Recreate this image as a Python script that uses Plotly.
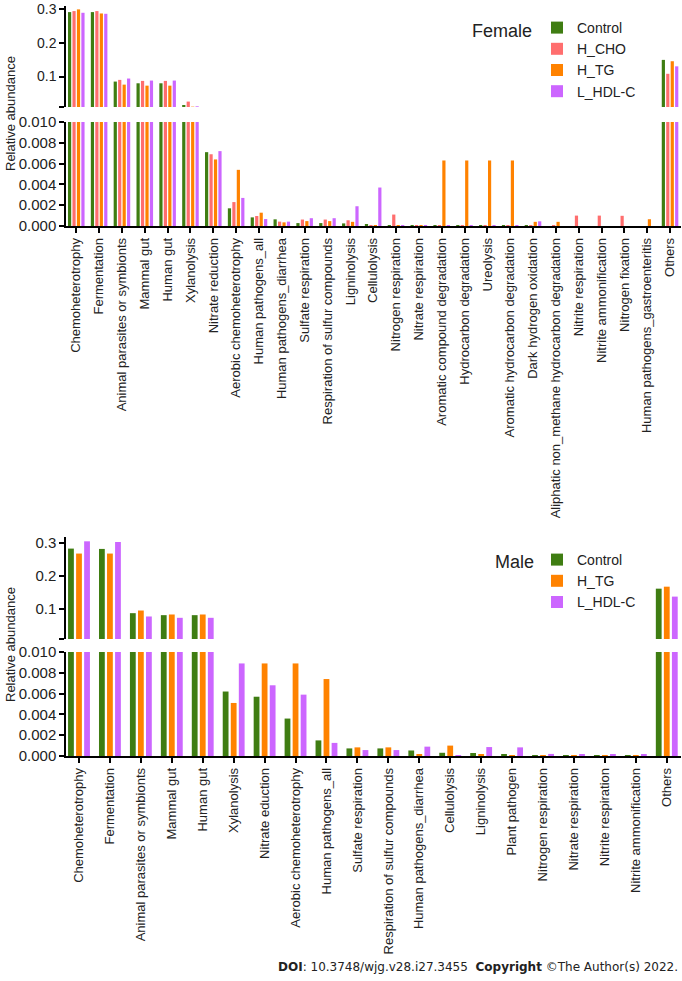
import plotly.graph_objects as go

W, H = 682, 981

# ---- female panel data
female_categories = [
    "Chemoheterotrophy", "Fermentation", "Animal parasites or symbionts",
    "Mammal gut", "Human gut", "Xylanolysis", "Nitrate reduction",
    "Aerobic chemoheterotrophy", "Human pathogens_all", "Human pathogens_diarrhea",
    "Sulfate respiration", "Respiration of sulfur compounds", "Ligninolysis",
    "Cellulolysis", "Nitrogen respiration", "Nitrate respiration",
    "Aromatic compound degradation", "Hydrocarbon degradation", "Ureolysis",
    "Aromatic hydrocarbon degradation", "Dark hydrogen oxidation",
    "Aliphatic non_methane hydrocarbon degradation", "Nitrite respiration",
    "Nitrite ammonification", "Nitrogen fixation",
    "Human pathogens_gastroenteritis", "Others",
]
female_control = [0.290, 0.290, 0.085, 0.080, 0.080, 0.016, 0.0071, 0.0017, 0.00083,
                  0.00064, 0.00028, 0.00028, 0.00025, 0.00015, 0.00005, 0.00005,
                  0.00002, 0.00002, 0.00002, 0.00002, 0.00001, 0.0, 0.0, 0.0, 0.0,
                  0.0, 0.149]
female_h_cho = [0.293, 0.293, 0.090, 0.087, 0.087, 0.026, 0.0069, 0.0023, 0.00096,
                0.00042, 0.00062, 0.00062, 0.00055, 0.00003, 0.0011, 0.00008,
                0.00008, 0.00008, 0.00008, 0.00008, 0.00002, 0.00008, 0.0010,
                0.0010, 0.00098, 0.0, 0.108]
female_h_tg = [0.298, 0.286, 0.076, 0.073, 0.073, 0.011, 0.0064, 0.0054, 0.00128,
               0.00035, 0.00047, 0.00047, 0.00040, 0.00002, 0.00005, 0.00005,
               0.0063, 0.0063, 0.0063, 0.0063, 0.00040, 0.00040, 0.0, 0.0, 0.0,
               0.00065, 0.145]
female_l_hdl = [0.288, 0.285, 0.094, 0.088, 0.088, 0.012, 0.0072, 0.0027, 0.00067,
                0.00042, 0.00075, 0.00075, 0.0019, 0.0037, 0.00005, 0.00005,
                0.00003, 0.00003, 0.00003, 0.00003, 0.00045, 0.0, 0.0, 0.0, 0.0,
                0.0, 0.130]

# ---- male panel data
male_categories = [
    "Chemoheterotrophy", "Fermentation", "Animal parasites or symbionts",
    "Mammal gut", "Human gut", "Xylanolysis", "Nitrate eduction",
    "Aerobic chemoheterotrophy", "Human pathogens_all", "Sulfate respiration",
    "Respiration of sulfur compounds", "Human pathogens_diarrhea", "Cellulolysis",
    "Ligninolysis", "Plant pathogen", "Nitrogen respiration", "Nitrate respiration",
    "Nitrite respiration", "Nitrite ammonification", "Others",
]
male_control = [0.283, 0.282, 0.088, 0.082, 0.082, 0.0062, 0.0057, 0.0036, 0.0015,
                0.00073, 0.00073, 0.00053, 0.00031, 0.00029, 0.00011, 0.00004,
                0.00002, 0.00001, 0.00001, 0.162]
male_h_tg = [0.268, 0.268, 0.096, 0.084, 0.084, 0.0051, 0.0089, 0.0089, 0.0074,
             0.00083, 0.00083, 0.00018, 0.0010, 0.00015, 0.00002, 0.00003,
             0.00001, 0.00001, 0.00001, 0.168]
male_l_hdl = [0.305, 0.303, 0.078, 0.074, 0.074, 0.0089, 0.0068, 0.0059, 0.00126,
              0.00057, 0.00057, 0.00090, 0.00002, 0.00086, 0.00083, 0.00020,
              0.00015, 0.00015, 0.00015, 0.138]

colors = {"Control": "#3f7d12", "H_CHO": "#ff6e6e", "H_TG": "#ff8200", "L_HDL-C": "#cc66ff"}
FONT = "Arial, Liberation Sans, sans-serif"


def px_x(p):
    return p / W


def px_y(p):
    return 1 - p / H


fig = go.Figure()

female_series = [("Control", female_control), ("H_CHO", female_h_cho),
                 ("H_TG", female_h_tg), ("L_HDL-C", female_l_hdl)]
male_series = [("Control", male_control), ("H_TG", male_h_tg), ("L_HDL-C", male_l_hdl)]

# female: lower (y) and upper (y2) segments of the broken axis
for name, vals in female_series:
    fig.add_trace(go.Bar(x=female_categories, y=vals, name=name, marker_color=colors[name],
                         marker_line_width=0, xaxis="x", yaxis="y", legend="legend"))
for name, vals in female_series:
    fig.add_trace(go.Bar(x=female_categories, y=vals, name=name, marker_color=colors[name],
                         marker_line_width=0, xaxis="x", yaxis="y2", showlegend=False))

# male: lower (y3) and upper (y4)
for name, vals in male_series:
    fig.add_trace(go.Bar(x=male_categories, y=vals, name=name, marker_color=colors[name],
                         marker_line_width=0, xaxis="x2", yaxis="y3", legend="legend2"))
for name, vals in male_series:
    fig.add_trace(go.Bar(x=male_categories, y=vals, name=name, marker_color=colors[name],
                         marker_line_width=0, xaxis="x2", yaxis="y4", showlegend=False))

# automargin off, otherwise the "0.3" label at the very top grows the margins
axis_common = dict(showline=True, linecolor="black", linewidth=1.5, ticks="outside",
                   ticklen=5, tickwidth=1.5, tickcolor="black", showgrid=False,
                   zeroline=False, automargin=False, ticklabeloverflow="allow",
                   tickfont=dict(family=FONT, size=15, color="#222"))
xtick_font = dict(family=FONT, size=13, color="#222")

lower_ticks = [0, 0.002, 0.004, 0.006, 0.008, 0.010]

fig.update_layout(
    width=W, height=H,
    margin=dict(l=0, r=0, t=0, b=0, autoexpand=False),
    paper_bgcolor="white", plot_bgcolor="white",
    barmode="group",
    bargap=0.22, bargroupgap=0.28,
    font=dict(family=FONT, color="#222"),
    xaxis=dict(domain=[px_x(66), px_x(681)], anchor="y", type="category",
               range=[-0.45, 26.48], tickangle=-90, **{**axis_common, "tickfont": xtick_font}),
    yaxis=dict(domain=[px_y(226), px_y(122)], anchor="x", range=[0, 0.010],
               tickvals=lower_ticks, tickformat=".3f", **axis_common),
    yaxis2=dict(domain=[px_y(107), px_y(6)], anchor="x", range=[0.01, 0.308],
                tickvals=[0.01, 0.1, 0.2, 0.3], ticktext=["", "0.1", "0.2", "0.3"],
                **{**axis_common, "tickfont": dict(family=FONT, size=14, color="#222")}),
    xaxis2=dict(domain=[px_x(66), px_x(681)], anchor="y3", type="category",
                range=[-0.42, 19.46], tickangle=-90, **{**axis_common, "tickfont": xtick_font}),
    yaxis3=dict(domain=[px_y(756), px_y(652)], anchor="x2", range=[0, 0.010],
                tickvals=lower_ticks, tickformat=".3f", **axis_common),
    yaxis4=dict(domain=[px_y(639), px_y(537)], anchor="x2", range=[0.01, 0.318],
                tickvals=[0.01, 0.1, 0.2, 0.3], ticktext=["", "0.1", "0.2", "0.3"],
                **axis_common),
    legend=dict(x=px_x(537), y=px_y(12), xanchor="left", yanchor="top",
                font=dict(family=FONT, size=14, color="#222"), bgcolor="rgba(0,0,0,0)",
                tracegroupgap=0),
    legend2=dict(x=px_x(537), y=px_y(544), xanchor="left", yanchor="top",
                 font=dict(family=FONT, size=14, color="#222"), bgcolor="rgba(0,0,0,0)",
                 tracegroupgap=0),
)

annotations = [
    dict(text="Female", x=px_x(534), y=px_y(31), xanchor="right", yanchor="middle",
         font=dict(family=FONT, size=18, color="#222")),
    dict(text="Male", x=px_x(536), y=px_y(562), xanchor="right", yanchor="middle",
         font=dict(family=FONT, size=18, color="#222")),
    dict(text="Relative abundance", x=px_x(10), y=px_y(114), textangle=-90,
         xanchor="center", yanchor="middle", font=dict(family=FONT, size=13, color="#222")),
    dict(text="Relative abundance", x=px_x(10), y=px_y(645), textangle=-90,
         xanchor="center", yanchor="middle", font=dict(family=FONT, size=13, color="#222")),
    dict(text="<b>DOI</b>: 10.3748/wjg.v28.i27.3455  <b>Copyright</b> ©The Author(s) 2022.",
         x=px_x(680), y=px_y(967), xanchor="right", yanchor="middle",
         font=dict(family="DejaVu Sans, Verdana, sans-serif", size=12, color="#222")),
]
for a in annotations:
    fig.add_annotation(xref="paper", yref="paper", showarrow=False, **a)

# the page body has an 8px default margin; drop it so the figure sits at the top-left
fig.write_html("out.html", config={"displayModeBar": False},
               post_script="document.body.style.margin='0';")
